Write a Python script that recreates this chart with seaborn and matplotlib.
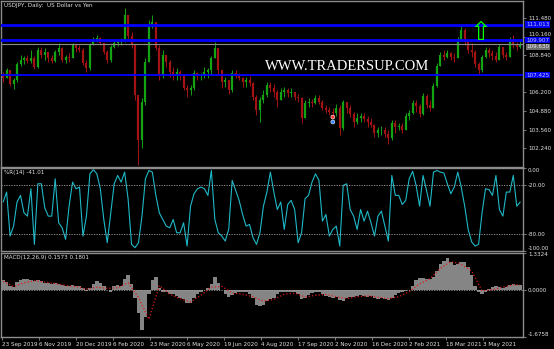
import numpy as np
import matplotlib
matplotlib.use("Agg")
import matplotlib.pyplot as plt
import seaborn as sns

# ---------------- data (each candle = 3 trading days) ----------------
first_open = 107.50
highs = [107.65,107.93,107.79,107.22,108.36,108.85,108.78,108.85,109.21,108.78,
         109.42,109.42,109.35,109.07,108.85,109.21,109.71,109.42,108.85,109.00,
         109.71,109.63,109.56,109.35,108.50,109.71,110.13,110.27,110.13,109.71,
         109.21,109.56,109.92,109.92,110.06,112.19,111.69,110.49,109.63,106.02,
         105.80,108.64,111.34,111.69,111.20,109.56,109.21,108.85,108.50,108.00,
         107.93,107.79,107.51,106.72,106.72,107.79,107.65,107.58,108.00,107.93,
         108.78,109.78,109.35,107.79,107.29,107.08,107.79,107.79,107.58,107.29,
         107.29,107.36,106.94,106.02,105.87,106.37,106.94,106.94,106.80,106.37,
         106.51,106.58,106.51,106.51,106.23,106.09,105.87,105.66,105.80,105.73,
         106.02,106.02,105.66,105.31,105.16,105.09,105.38,105.31,105.66,105.52,
         105.31,104.81,104.74,104.74,104.74,104.52,104.38,103.96,103.74,103.81,
         103.74,103.53,104.24,104.24,104.03,104.03,104.74,104.95,105.66,105.66,
         105.38,106.16,106.09,105.66,106.87,108.29,109.07,109.21,109.21,109.07,
         109.00,110.13,110.91,110.77,109.78,109.71,109.21,108.36,108.85,109.42,
         109.42,109.21,109.07,109.63,109.42,109.07,110.13,110.27,109.78,109.85]
lows = [106.94,107.22,106.65,106.44,106.94,108.07,108.21,108.29,108.29,107.86,
        107.93,108.64,108.50,108.36,108.29,108.36,108.85,108.36,108.29,108.36,
        108.64,109.07,109.07,108.14,107.65,107.79,109.56,109.78,109.56,108.92,
        108.29,108.36,109.35,109.49,109.56,109.78,109.92,109.35,105.66,101.05,
        102.25,105.31,108.36,110.77,109.21,107.08,107.22,108.00,107.29,107.08,
        107.08,107.08,106.37,105.87,106.02,106.37,107.08,107.08,107.22,107.22,
        107.43,108.64,107.51,106.51,106.58,106.09,106.23,107.22,107.08,106.58,
        106.58,106.65,105.66,104.60,104.10,105.45,105.87,106.23,105.87,105.16,
        105.66,105.87,105.87,105.87,105.66,105.52,104.03,104.38,105.16,105.16,
        105.38,105.38,104.95,104.74,104.60,104.52,104.52,103.18,103.53,104.74,
        104.45,103.74,103.96,104.10,104.10,103.74,103.74,103.03,103.03,103.18,
        103.03,102.54,102.82,103.32,103.53,103.32,103.53,104.24,104.67,104.81,
        104.45,104.60,105.09,104.88,105.09,106.58,108.07,108.50,108.64,108.50,
        108.36,108.64,109.92,109.56,109.00,108.71,108.00,107.51,107.65,108.64,
        108.71,108.50,108.36,108.50,108.64,108.50,108.71,109.35,109.21,109.35]
closes = [107.22,107.79,106.80,107.08,108.21,108.50,108.64,108.43,108.64,108.00,
          109.21,108.85,109.07,108.64,108.43,109.07,109.35,108.50,108.71,108.64,
          109.56,109.35,109.21,108.29,107.93,109.56,109.92,110.06,109.71,109.07,
          108.50,109.42,109.71,109.78,109.85,111.69,110.20,109.63,106.02,102.82,
          105.52,108.36,110.98,111.20,109.35,107.43,108.85,108.36,107.65,107.43,
          107.65,107.43,106.51,106.37,106.51,107.58,107.36,107.43,107.65,107.79,
          108.64,109.35,107.79,106.94,107.08,106.37,107.58,107.43,107.22,106.94,
          107.08,106.87,105.87,104.95,105.66,106.02,106.72,106.51,106.23,105.66,
          106.23,106.37,106.16,106.23,105.87,105.80,104.38,105.45,105.52,105.45,
          105.80,105.52,105.09,104.95,104.81,104.74,105.09,103.67,105.52,105.09,
          104.67,104.10,104.38,104.52,104.31,104.10,103.89,103.32,103.53,103.53,
          103.25,102.96,104.03,103.74,103.81,103.53,104.52,104.74,105.45,105.23,
          104.67,105.94,105.31,105.09,106.65,108.07,108.85,108.71,109.00,108.71,
          108.64,109.92,110.63,109.78,109.21,109.07,108.21,107.79,108.71,109.21,
          109.00,108.78,108.50,109.42,108.85,108.71,109.92,109.56,109.42,109.63]

wpr = [-41,-29,-82,-70,-41,-33,-54,-58,-25,-92,
       -19,-19,-48,-58,-58,-13,-66,-72,-86,-46,
       -17,-25,-23,-82,-58,-7,-2,-7,-25,-62,
       -90,-54,-19,-9,-17,-5,-37,-92,-96,-90,
       -58,-13,-3,-5,-33,-54,-62,-70,-72,-62,
       -78,-78,-66,-94,-46,-31,-25,-23,-25,-33,
       -3,-62,-78,-82,-88,-74,-15,-27,-39,-56,
       -70,-68,-84,-92,-78,-46,-29,-5,-29,-50,
       -41,-74,-44,-39,-50,-90,-78,-37,-33,-17,
       -7,-15,-64,-56,-82,-74,-70,-94,-21,-19,
       -50,-58,-74,-50,-64,-52,-66,-82,-58,-52,
       -70,-88,-9,-33,-33,-44,-39,-13,-4,-21,
       -46,-9,-27,-46,-5,-3,-5,-6,-19,-31,
       -23,-5,-23,-46,-74,-89,-94,-92,-54,-25,
       -26,-33,-9,-50,-58,-29,-29,-9,-46,-41.01]

macd_hist = [0.33,0.27,0.12,0.09,0.27,0.36,0.37,0.37,0.36,0.30,
             0.33,0.31,0.25,0.25,0.21,0.25,0.21,0.17,0.12,0.12,
             0.17,0.15,0.12,0.05,-0.04,0.05,0.21,0.30,0.25,0.12,
             0.0,-0.07,0.12,0.17,0.15,0.39,0.52,0.21,-0.28,-0.84,
             -1.43,-0.96,-0.16,0.33,0.46,0.05,-0.07,-0.10,-0.16,-0.16,
             -0.22,-0.28,-0.35,-0.49,-0.47,-0.28,-0.16,-0.07,0.0,0.05,
             0.21,0.46,0.25,0.0,-0.16,-0.25,-0.20,-0.12,-0.10,-0.10,
             -0.10,-0.16,-0.28,-0.53,-0.59,-0.53,-0.41,-0.35,-0.28,-0.16,
             -0.10,-0.07,-0.10,-0.07,-0.10,-0.16,-0.35,-0.28,-0.20,-0.12,
             -0.07,-0.10,-0.16,-0.22,-0.25,-0.28,-0.25,-0.37,-0.41,-0.28,
             -0.25,-0.25,-0.22,-0.20,-0.22,-0.25,-0.22,-0.28,-0.32,-0.30,
             -0.32,-0.37,-0.28,-0.20,-0.12,-0.07,-0.04,0.0,0.15,0.33,
             0.42,0.42,0.37,0.39,0.46,0.67,0.91,1.04,1.15,1.01,
             0.89,0.91,1.01,0.99,0.83,0.52,0.15,-0.07,-0.16,-0.07,
             0.02,0.09,0.12,0.09,0.05,0.09,0.17,0.21,0.17,0.1573]
# signal line read every 3rd candle (plus the last one)
signal_idx = list(range(0, 150, 3)) + [149]
signal = [0.30,0.11,0.25,0.32,0.27,0.22,0.15,0.11,0.02,0.09,
          0.05,0.07,0.25,-0.28,-1.06,0.15,-0.16,-0.32,-0.44,-0.20,
          0.09,0.12,-0.12,-0.16,-0.25,-0.41,-0.35,-0.16,-0.12,-0.26,
          -0.20,-0.17,-0.25,-0.32,-0.25,-0.22,-0.27,-0.32,-0.25,-0.07,
          0.21,0.39,0.77,1.01,0.91,0.67,-0.04,0.0,0.09,0.17,0.1801]

date_labels = ["23 Sep 2019", "6 Nov 2019", "20 Dec 2019", "6 Feb 2020", "23 Mar 2020",
               "6 May 2020", "19 Jun 2020", "4 Aug 2020", "17 Sep 2020", "2 Nov 2020",
               "16 Dec 2020", "2 Feb 2021", "18 Mar 2021", "3 May 2021"]
DAYS_PER_LABEL = 32
DAYS_PER_CANDLE = 3

price_ticks = [111.480, 110.160, 108.840, 106.200, 104.880, 103.560, 102.240]
price_lim = (100.94, 112.69)
levels = [111.013, 109.907, 107.425]
level_widths = [2.0, 2.0, 1.3]
wpr_ticks = [0, -20, -80, -100]
macd_lim = (-1.6758, 1.3324)
arrow_idx, arrow_price = 137.7, 110.40
trade_idx = 95
trade_prices = [104.45, 104.10]
trade_colors = ["#ff3030", "#3080ff"]

# ---------------- style ----------------
sns.set_theme(style="dark", rc={"axes.facecolor": "black", "figure.facecolor": "black"})
plt.rcParams["font.family"] = ["DejaVu Sans"]

GREEN, RED = "#13a313", "#a31313"
FRAME = "#8c8c8c"
TXT = "#e0e0e0"
FS = 4.1

W, H = 554, 349
fig = plt.figure(figsize=(W / 100, H / 100), dpi=100, facecolor="black")


def px_axes(x0, y0, x1, y1):
    return fig.add_axes([x0 / W, 1 - y1 / H, (x1 - x0) / W, (y1 - y0) / H])


ax_p = px_axes(1, 1, 523, 166.5)
ax_r = px_axes(1, 168, 523, 251)
ax_m = px_axes(1, 252.5, 523, 336.5)

n = len(closes)
idx = np.arange(n)
xlim = (-0.62, 149.8)

for ax in (ax_p, ax_r, ax_m):
    ax.set_facecolor("black")
    ax.grid(False)
    for s in ax.spines.values():
        s.set_color(FRAME)
        s.set_linewidth(1.0)
    ax.set_xlim(*xlim)
    ax.yaxis.tick_right()
    ax.tick_params(axis="y", colors=FRAME, labelcolor=TXT, labelsize=FS, length=2,
                   width=0.6, pad=1.5, direction="out")
    ax.tick_params(axis="x", bottom=False, labelbottom=False)

# ---------------- price panel ----------------
c = np.array(closes)
o = np.r_[first_open, c[:-1]]
col = np.where(c >= o, GREEN, RED)
ax_p.vlines(idx, lows, highs, colors=col, lw=0.7)
ax_p.vlines(idx, np.minimum(o, c), np.maximum(o, c), colors=col, lw=1.6)
for lv, lw in zip(levels, level_widths):
    ax_p.axhline(lv, color="#0000ff", lw=lw, zorder=3)
ax_p.axhline(closes[-1], color="#8a8a8a", lw=0.8, zorder=3)
ax_p.set_ylim(*price_lim)
ax_p.set_yticks(price_ticks)
ax_p.set_yticklabels([f"{t:.3f}" for t in price_ticks])
for t, v in zip(ax_p.get_yticklabels(), price_ticks):
    if v == 110.160:
        t.set_va("bottom")

ytr = ax_p.get_yaxis_transform()
for lv in levels:
    ax_p.text(1.006, lv, f"{lv:.3f}", transform=ytr, fontsize=FS, color="#c8c8ff",
              va="center", ha="left", clip_on=False, zorder=5,
              bbox=dict(fc="#0000ee", ec="none", pad=0.5))
ax_p.text(1.006, closes[-1], f"{closes[-1]:.3f}", transform=ytr, fontsize=FS,
          color="#f0f0f0", va="top", ha="left", clip_on=False, zorder=6,
          bbox=dict(fc="#6e6e6e", ec="none", pad=0.4))

ax_p.text(0.006, 0.985, "USDJPY, Daily:  US Dollar vs Yen", transform=ax_p.transAxes,
          fontsize=FS, color=TXT, va="top", ha="left")
ax_p.text(0.663, 0.607, "WWW.TRADERSUP.COM", transform=ax_p.transAxes,
          family=["Liberation Serif", "DejaVu Serif"], fontsize=10.5, color="white",
          ha="center", va="center", zorder=4)
ax_p.text(arrow_idx, arrow_price, "\u21e7", color="#00ff00", fontsize=19,
          ha="center", va="center", zorder=6)
ax_p.scatter([trade_idx] * len(trade_prices), trade_prices, s=8, c=trade_colors,
             edgecolors="white", linewidths=0.4, zorder=6)

# ---------------- %R panel ----------------
sns.lineplot(x=idx, y=wpr, ax=ax_r, color="#1fb8c6", lw=0.8)
for lv in (-20, -80):
    ax_r.axhline(lv, color="#a0a0a0", lw=0.6, ls=(0, (1.5, 1.5)))
ax_r.set_ylim(-100, 0)
ax_r.set_yticks(wpr_ticks)
ax_r.set_yticklabels([f"{t:.2f}" for t in wpr_ticks])
labs = ax_r.get_yticklabels()
labs[0].set_va("top")
labs[-1].set_va("bottom")
ax_r.set_ylabel("")
ax_r.text(0.006, 0.97, f"%R(14) {wpr[-1]:.2f}", transform=ax_r.transAxes,
          fontsize=FS, color=TXT, va="top", ha="left")

# ---------------- MACD panel ----------------
ax_m.bar(idx, macd_hist, width=1.0, color="#858585", lw=0)
ax_m.axhline(0, color="#a0a0a0", lw=0.6, ls=(0, (1.5, 1.5)))
sns.lineplot(x=signal_idx, y=signal, ax=ax_m, color="#e01818", lw=0.9, linestyle=":")
ax_m.set_ylim(*macd_lim)
mt = [macd_lim[1], 0.0, macd_lim[0]]
ax_m.set_yticks(mt)
ax_m.set_yticklabels([f"{t:.4f}" for t in mt])
labs = ax_m.get_yticklabels()
labs[0].set_va("top")
labs[-1].set_va("bottom")
ax_m.set_ylabel("")
ax_m.text(0.006, 0.97, f"MACD(12,26,9) {macd_hist[-1]:.4f} {signal[-1]:.4f}",
          transform=ax_m.transAxes, fontsize=FS, color=TXT, va="top", ha="left")

xt = [(DAYS_PER_LABEL * k - 1) / DAYS_PER_CANDLE for k in range(len(date_labels))]
ax_m.set_xticks(xt)
ax_m.set_xticklabels(date_labels)
ax_m.tick_params(axis="x", bottom=True, labelbottom=True, colors=FRAME, labelcolor=TXT,
                 labelsize=FS, length=2.5, width=0.6, pad=1.5)
for t in ax_m.get_xticklabels():
    t.set_ha("left")

fig.savefig("out.png", dpi=100, facecolor="black")
